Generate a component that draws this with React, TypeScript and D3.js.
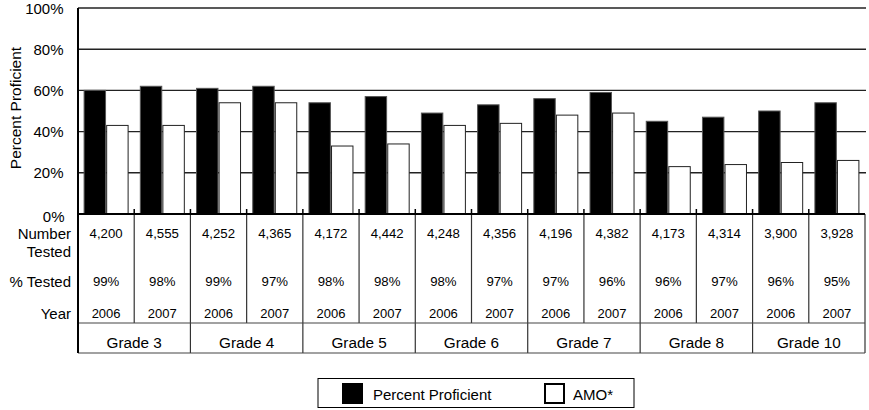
import React from "react";
import * as d3 from "d3";

const grades = ["Grade 3", "Grade 4", "Grade 5", "Grade 6", "Grade 7", "Grade 8", "Grade 10"];
const years = ["2006", "2007"];
const percentProficient = [60, 62, 61, 62, 54, 57, 49, 53, 56, 59, 45, 47, 50, 54];
const amo = [43, 43, 54, 54, 33, 34, 43, 44, 48, 49, 23, 24, 25, 26];
const numberTested = ["4,200", "4,555", "4,252", "4,365", "4,172", "4,442", "4,248", "4,356", "4,196", "4,382", "4,173", "4,314", "3,900", "3,928"];
const pctTested = ["99%", "98%", "99%", "97%", "98%", "98%", "98%", "97%", "97%", "96%", "96%", "97%", "96%", "95%"];
const yTicks = [0, 20, 40, 60, 80, 100];
const seriesNames = ["Percent Proficient", "AMO*"];

const W = 869;
const H = 410;
const left = 78;
const right = 865;
const top = 8;
const base = 214;
const font = "Arial, 'Liberation Sans', sans-serif";

export default function App() {
  const cols = grades.flatMap((g) => years.map((y) => `${g}|${y}`));
  const x = d3.scaleBand<string>().domain(cols).range([left, right]).padding(0);
  const y = d3.scaleLinear().domain([0, 100]).range([base, top]);
  const inner = d3.scaleBand<string>().domain(["pp", "amo"]).range([-22, 22]).paddingInner(0.05);
  const bw = inner.bandwidth();
  const gx = d3.scaleBand<string>().domain(grades).range([left, right]).padding(0);
  const boundaries = d3.range(1, cols.length).map((k) => left + k * x.step());

  return (
    <div style={{ position: "absolute", left: 0, top: 0 }}>
      <svg width={W} height={H} style={{ display: "block", fontFamily: font }}>
        <rect x={0} y={0} width={W} height={H} fill="#fff" />
        {/* gridlines */}
        {yTicks.filter((t) => t > 0).map((t) => (
          <line key={t} x1={left} x2={866} y1={y(t)} y2={y(t)} stroke="#222" strokeWidth={1.4} />
        ))}
        {/* y labels */}
        {yTicks.map((t) => (
          <text key={t} x={t === 0 ? 64.5 : 63.5} y={t === 0 ? y(t) + 2.5 : y(t)} textAnchor="end" dominantBaseline="central" fontSize={15}>
            {t}%
          </text>
        ))}
        <text transform={`translate(15,${(top + base) / 2 - 3}) rotate(-90)`} textAnchor="middle" dominantBaseline="central" fontSize={15.5}>
          Percent Proficient
        </text>
        {/* bars */}
        {cols.map((c, i) => {
          const cx = (x(c) as number) + x.bandwidth() / 2;
          return (
            <g key={c}>
              <rect x={cx + (inner("pp") as number)} y={y(percentProficient[i])} width={bw} height={base - y(percentProficient[i])} fill="#000" stroke="#555" strokeWidth={1} />
              <rect x={cx + (inner("amo") as number)} y={y(amo[i])} width={bw} height={base - y(amo[i])} fill="#fff" stroke="#222" strokeWidth={1} />
            </g>
          );
        })}
        {/* ticks above axis */}
        {boundaries.map((bx) => (
          <line key={`t${bx}`} x1={bx} x2={bx} y1={209} y2={base} stroke="#000" strokeWidth={1.5} />
        ))}
        {/* table vertical lines */}
        {boundaries.map((bx, k) => (
          <line key={`v${bx}`} x1={bx} x2={bx} y1={base} y2={(k + 1) % 2 === 0 ? 353 : 323} stroke="#333" strokeWidth={1.2} />
        ))}
        <line x1={right} x2={right} y1={base} y2={353} stroke="#333" strokeWidth={1.2} />
        <line x1={left} x2={right} y1={323} y2={323} stroke="#444" strokeWidth={1.2} />
        <line x1={left} x2={right} y1={353} y2={353} stroke="#444" strokeWidth={1.2} />
        {/* axes */}
        <line x1={left} x2={left} y1={top} y2={353} stroke="#000" strokeWidth={2} />
        <line x1={left - 1} x2={right} y1={base} y2={base} stroke="#000" strokeWidth={2} />
        {/* row labels */}
        <g fontSize={15} textAnchor="end" dominantBaseline="central">
          <text x={71} y={233}>Number</text>
          <text x={71} y={251.5}>Tested</text>
          <text x={71} y={281}>% Tested</text>
          <text x={71} y={313}>Year</text>
        </g>
        {/* table values */}
        {cols.map((c, i) => {
          const cx = (x(c) as number) + x.bandwidth() / 2;
          return (
            <g key={`tv${c}`} fontSize={13.2} textAnchor="middle" dominantBaseline="central">
              <text x={cx} y={233}>{numberTested[i]}</text>
              <text x={cx} y={281}>{pctTested[i]}</text>
              <text x={cx} y={313} fontSize={13}>{years[i % 2]}</text>
            </g>
          );
        })}
        {grades.map((g) => (
          <text key={g} x={(gx(g) as number) + gx.bandwidth() / 2} y={342} fontSize={15.3} textAnchor="middle" dominantBaseline="central">
            {g}
          </text>
        ))}
        {/* legend */}
        <rect x={318} y={378.5} width={316} height={29} fill="#fff" stroke="#000" strokeWidth={1} />
        <rect x={342} y={383} width={21} height={21} fill="#000" />
        <text x={373} y={394} fontSize={15} dominantBaseline="central">{seriesNames[0]}</text>
        <rect x={545} y={384} width={19} height={19} fill="#fff" stroke="#000" strokeWidth={2} />
        <text x={573} y={394} fontSize={15} dominantBaseline="central">{seriesNames[1]}</text>
      </svg>
    </div>
  );
}
